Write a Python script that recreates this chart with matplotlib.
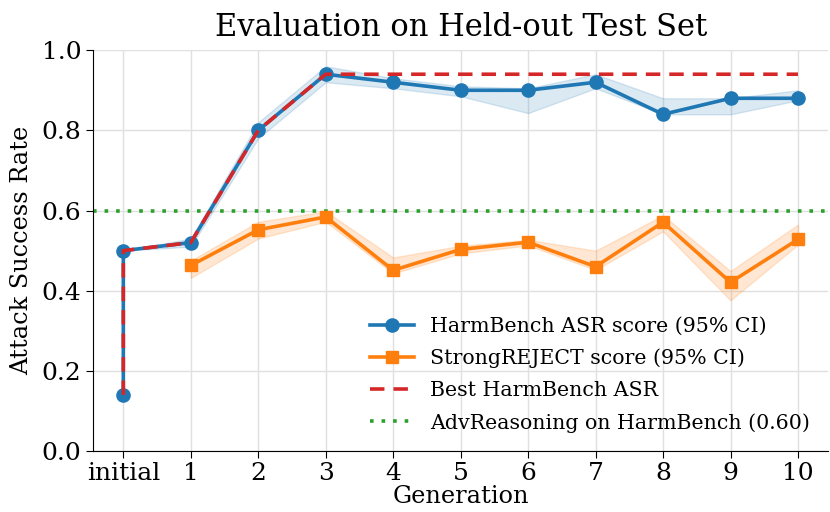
import matplotlib
matplotlib.use("Agg")
import matplotlib.pyplot as plt
import numpy as np

generations = ["initial", "1", "2", "3", "4", "5", "6", "7", "8", "9", "10"]

# HarmBench ASR (two measurements at "initial")
hb_gen = ["initial", "initial", "1", "2", "3", "4", "5", "6", "7", "8", "9", "10"]
hb_score = [0.14, 0.50, 0.52, 0.80, 0.94, 0.92, 0.90, 0.90, 0.92, 0.84, 0.88, 0.88]
hb_low = [0.14, 0.50, 0.51, 0.78, 0.92, 0.905, 0.885, 0.843, 0.905, 0.84, 0.84, 0.875]
hb_high = [0.14, 0.50, 0.53, 0.82, 0.96, 0.93, 0.91, 0.905, 0.94, 0.88, 0.88, 0.90]

# StrongREJECT score
sr_gen = ["1", "2", "3", "4", "5", "6", "7", "8", "9", "10"]
sr_score = [0.463, 0.552, 0.584, 0.451, 0.503, 0.521, 0.460, 0.571, 0.421, 0.528]
sr_low = [0.432, 0.53, 0.572, 0.443, 0.493, 0.513, 0.452, 0.548, 0.376, 0.515]
sr_high = [0.475, 0.572, 0.598, 0.483, 0.512, 0.527, 0.500, 0.588, 0.449, 0.565]

baseline = 0.60

plt.rcParams["font.family"] = ["DejaVu Serif"]

pos = {g: i for i, g in enumerate(generations)}
hb_x = [pos[g] for g in hb_gen]
sr_x = [pos[g] for g in sr_gen]
best = np.maximum.accumulate(hb_score)

fig = plt.figure(figsize=(8.3, 5.12), dpi=100)
ax = fig.add_axes([0.112, 0.119, 0.886, 0.783])

blue = "#1f77b4"
orange = "#ff7f0e"
ax.fill_between(hb_x, hb_low, hb_high, color=blue, alpha=0.16, linewidth=1, edgecolor=blue)
ax.plot(hb_x, hb_score, color=blue, marker="o", lw=2.6, ms=9.5,
        label="HarmBench ASR score (95% CI)", zorder=3)
ax.fill_between(sr_x, sr_low, sr_high, color=orange, alpha=0.18, linewidth=1, edgecolor=orange)
ax.plot(sr_x, sr_score, color=orange, marker="s", lw=2.6, ms=9,
        label="StrongREJECT score (95% CI)", zorder=3)
ax.plot(hb_x, best, color="#d62728", ls=(0, (4, 2.5)), lw=2.6,
        label="Best HarmBench ASR", zorder=4)
ax.axhline(baseline, color="#2ca02c", ls=(0, (1, 2.2)), lw=2.6,
           label="AdvReasoning on HarmBench (0.60)", zorder=2)

ax.set_xlim(-0.45, 10.45)
ax.set_ylim(0, 1.0)
ax.set_xticks(range(len(generations)))
ax.set_xticklabels(generations)
ax.set_yticks(np.arange(0, 1.01, 0.2))
ax.tick_params(labelsize=18, length=5)
ax.tick_params(axis="x", pad=3)
ax.grid(True, color="#e0e0e0", lw=1)
ax.set_axisbelow(True)
for s in ["top", "right"]:
    ax.spines[s].set_visible(False)
ax.set_xlabel("Generation", fontsize=17.3, labelpad=0)
ax.set_ylabel("Attack Success Rate", fontsize=17.3, labelpad=6)
ax.set_title("Evaluation on Held-out Test Set", fontsize=22, pad=10)
ax.legend(loc="lower right", frameon=False, fontsize=14.8, handlelength=2.1,
          bbox_to_anchor=(1.0, 0.0), labelspacing=0.62)

fig.savefig("out.png", dpi=100)
